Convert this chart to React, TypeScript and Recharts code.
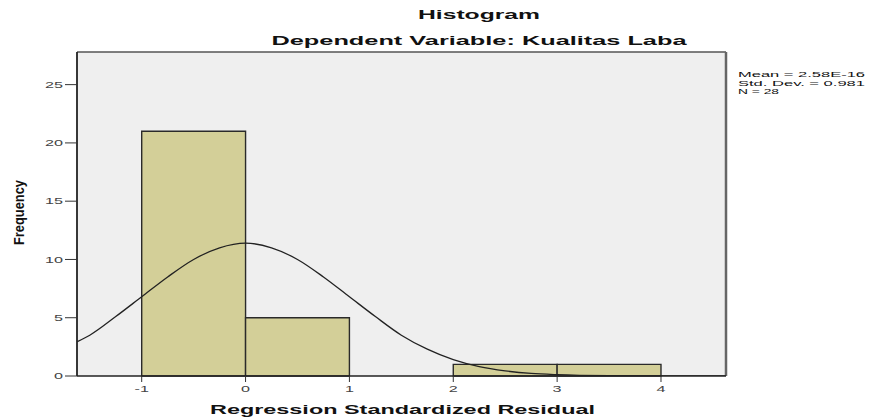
import React from 'react';
import { ComposedChart, Line, XAxis, YAxis, ReferenceArea, ReferenceLine, CartesianGrid } from 'recharts';

// ---- data ----
const binStart = [-1, 0, 1, 2, 3];
const binEnd = [0, 1, 2, 3, 4];
const binCount = [21, 5, 0, 1, 1];

const curveX = [-1.62, -1.5, -1.25, -1, -0.75, -0.5, -0.25, 0, 0.25, 0.5, 0.75, 1, 1.25, 1.5, 1.75, 2, 2.25, 2.5, 2.75, 3, 3.5, 4, 4.62];
const curveY = [2.95, 3.5, 5.1, 6.8, 8.5, 10.0, 11.0, 11.4, 11.0, 10.0, 8.5, 6.8, 5.1, 3.5, 2.3, 1.4, 0.8, 0.44, 0.22, 0.11, 0.02, 0.0, 0.0];

const xTicks = [-1, 0, 1, 2, 3, 4];
const yTicks = [0, 5, 10, 15, 20, 25];

const titleText = 'Histogram';
const subtitleText = 'Dependent Variable: Kualitas Laba';
const xLabelText = 'Regression Standardized Residual';
const yLabelText = 'Frequency';
const statsLines = ['Mean = 2.58E-16', 'Std. Dev. = 0.981', 'N = 28'];

// ---- styling / layout ----
const X_DOMAIN: [number, number] = [-1.623, 4.626];
const Y_DOMAIN: [number, number] = [0, 27.8];
const FONT = "'Liberation Sans', Arial, Helvetica, sans-serif";
const NARROW = "'Liberation Sans Narrow', 'Liberation Sans', Arial, sans-serif";
const STRETCH = 1.8;
const TICK_FS = 9;

const charW = (s: string) => {
  let w = 0;
  for (const c of s) {
    if (c === '-') w += 0.333;
    else if (c === '.') w += 0.278;
    else w += 0.556;
  }
  return w;
};

const chartData = curveX.map((x, i) => ({ x, y: curveY[i] }));

const YTick = (props: any) => {
  const { x, y, payload } = props;
  const s = String(payload.value);
  return (
    <text x={x} y={y} dy={3.2} textAnchor="end" fontFamily={FONT} fontSize={TICK_FS} fill="#444"
      textLength={charW(s) * TICK_FS * STRETCH} lengthAdjust="spacingAndGlyphs">
      {s}
    </text>
  );
};

const XTick = (props: any) => {
  const { x, y, payload } = props;
  const s = String(payload.value);
  const w = charW(s) * TICK_FS * STRETCH;
  return (
    <text x={x - w / 2} y={y} dy={7.5} textAnchor="start" fontFamily={FONT} fontSize={TICK_FS} fill="#444"
      textLength={w} lengthAdjust="spacingAndGlyphs">
      {s}
    </text>
  );
};

export default function App() {
  return (
    <div style={{ position: 'absolute', left: 0, top: 0, width: 870, height: 419, background: '#fff' }}>
      <ComposedChart width={870} height={419} data={chartData}
        margin={{ top: 52, right: 144, bottom: 0, left: 0 }}>
        <CartesianGrid fill="#efefef" horizontal={false} vertical={false} stroke="none" />
        <XAxis dataKey="x" type="number" domain={X_DOMAIN} allowDataOverflow ticks={xTicks} interval={0}
          height={43} tickSize={6} tickMargin={2} tick={<XTick />}
          axisLine={{ stroke: '#222', strokeWidth: 1.6 }} tickLine={{ stroke: '#333' }} />
        <YAxis type="number" domain={Y_DOMAIN} allowDataOverflow ticks={yTicks} interval={0}
          width={77} tickSize={12} tickMargin={2} tick={<YTick />}
          axisLine={{ stroke: '#222', strokeWidth: 1.8 }} tickLine={{ stroke: '#333' }} />
        {binCount.map((c, i) =>
          c > 0 ? (
            <ReferenceArea key={'bin' + i} x1={binStart[i]} x2={binEnd[i]} y1={0} y2={c}
              fill="#d3cf98" fillOpacity={1} stroke="#2a2a2a" strokeWidth={1.4} ifOverflow="visible" />
          ) : null
        )}
        <ReferenceLine y={Y_DOMAIN[1]} stroke="#555" strokeWidth={1.5} ifOverflow="visible" />
        <ReferenceLine x={X_DOMAIN[1]} stroke="#666" strokeWidth={2.5} ifOverflow="visible" />
        <Line dataKey="y" type="monotone" stroke="#222" strokeWidth={1.3} dot={false} activeDot={false}
          isAnimationActive={false} />
      </ComposedChart>
      <svg width={870} height={419} style={{ position: 'absolute', left: 0, top: 0, pointerEvents: 'none' }}>
        <text x={479 - 61} y={18.5} fontFamily={FONT} fontWeight="bold" fontSize={13} fill="#111"
          textLength={122} lengthAdjust="spacingAndGlyphs">{titleText}</text>
        <text x={479 - 207.5} y={44.5} fontFamily={FONT} fontWeight="bold" fontSize={13} fill="#111"
          textLength={415} lengthAdjust="spacingAndGlyphs">{subtitleText}</text>
        <text x={210} y={414} fontFamily={FONT} fontWeight="bold" fontSize={13} fill="#111"
          textLength={385} lengthAdjust="spacingAndGlyphs">{xLabelText}</text>
        <text transform="translate(24,212.5) rotate(-90)" x={-32.5} y={0} fontFamily={NARROW} fontWeight="bold"
          fontSize={15} fill="#111" textLength={65} lengthAdjust="spacingAndGlyphs">{yLabelText}</text>
        {statsLines.map((s, i) => (
          <text key={s} x={738} y={77 + i * 8.6} fontFamily={FONT} fontSize={7.5} fill="#111"
            textLength={i === 2 ? 41 : 127} lengthAdjust="spacingAndGlyphs">{s}</text>
        ))}
      </svg>
    </div>
  );
}
